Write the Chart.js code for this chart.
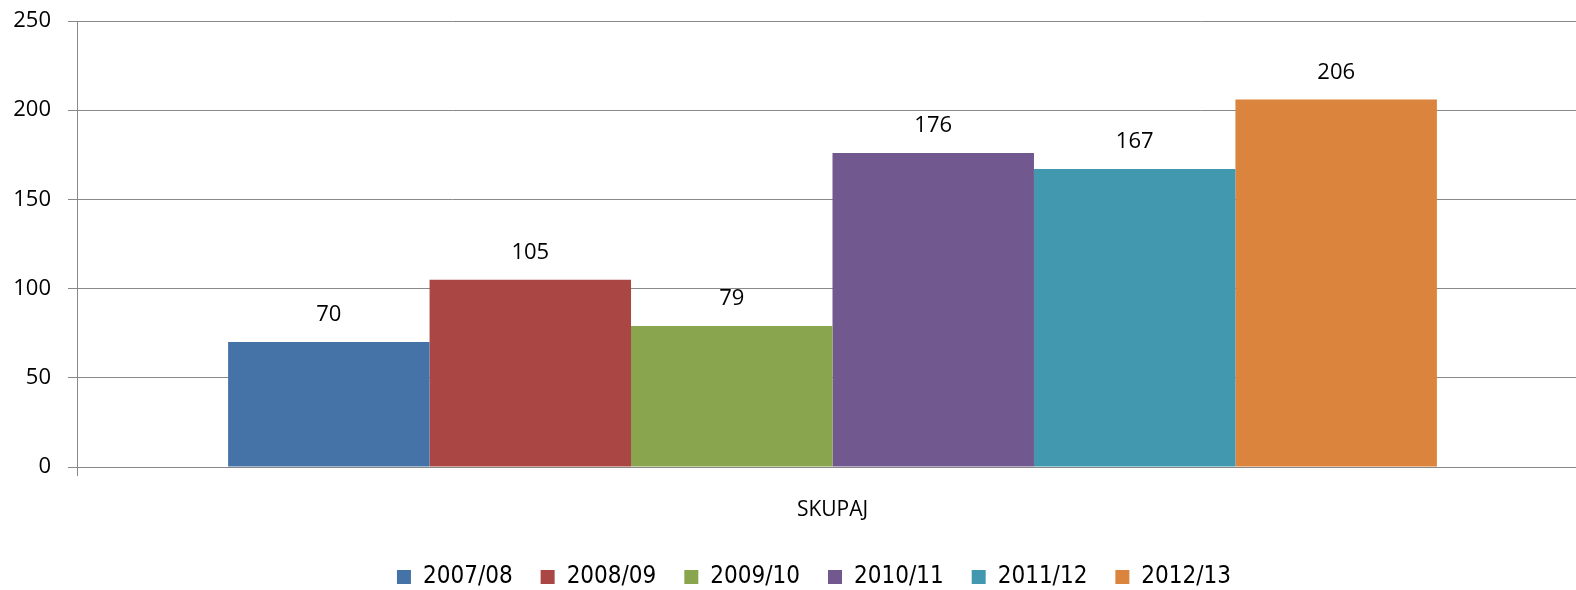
<!DOCTYPE html>
<html>
<head>
<meta charset="utf-8">
<script src="https://cdn.jsdelivr.net/npm/chart.js@4.4.0/dist/chart.umd.min.js"></script>
<style>
  html, body { margin: 0; padding: 0; background: #fff; }
  #wrap { width: 1576px; height: 590px; }
</style>
</head>
<body>
<div id="wrap"><canvas id="grafico" width="1576" height="590"></canvas></div>
<script>
// dati
const categorie = ["SKUPAJ"];
const anni = ["2007/08", "2008/09", "2009/10", "2010/11", "2011/12", "2012/13"];
const valori = [70, 105, 79, 176, 167, 206];
const colori = ["#4572A7", "#AA4643", "#89A54E", "#71588F", "#4198AF", "#DB843D"];
const yTicks = [0, 50, 100, 150, 200, 250];

const FONT = "'Liberation Sans Narrow', 'DejaVu Sans Condensed', 'Open Sans', sans-serif";

// etichette sopra le barre + piccoli aggiustamenti di layout
const valueLabels = {
  id: "valueLabels",
  afterLayout(chart) {
    // legenda leggermente spostata a destra come nell'originale
    chart.legend.left += 26;
    chart.legend.right += 26;
    // gruppo di barre leggermente spostato a destra
    const x = chart.scales.x;
    x.right += 12;
    x.width += 12;
    x.configure();
  },
  afterDatasetsDraw(chart) {
    const ctx = chart.ctx;
    ctx.save();
    ctx.font = "22px 'Open Sans', sans-serif";
    ctx.fillStyle = "#000";
    ctx.textAlign = "center";
    ctx.textBaseline = "middle";
    chart.data.datasets.forEach((ds, i) => {
      const meta = chart.getDatasetMeta(i);
      meta.data.forEach((bar, j) => {
        ctx.fillText(String(ds.data[j]), bar.x, bar.y - 27);
      });
    });
    ctx.restore();
  }
};

const datasets = anni.map((a, i) => ({
  label: a,
  data: [valori[i]],
  backgroundColor: colori[i],
  borderWidth: 0,
  barPercentage: 1,
  categoryPercentage: 0.8
}));

new Chart(document.getElementById("grafico").getContext("2d"), {
  type: "bar",
  data: { labels: categorie, datasets },
  plugins: [valueLabels],
  options: {
    responsive: false,
    animation: false,
    layout: { padding: { top: 21, right: 0, left: 0, bottom: -9 } },
    scales: {
      x: {
        afterFit(s) { s.height = 70; },
        grid: { drawOnChartArea: false, color: "#888", tickLength: 9, lineWidth: 1 },
        border: { color: "#888" },
        ticks: { color: "#000", font: { size: 21, family: "'Open Sans', sans-serif" }, padding: 21 }
      },
      y: {
        min: 0,
        max: 250,
        afterFit(s) { s.width = 77; s.paddingTop = 0; },
        afterBuildTicks(s) { s.ticks = yTicks.map(v => ({ value: v })); },
        grid: { color: "#888", tickLength: 9, lineWidth: 1 },
        border: { color: "#888" },
        ticks: { color: "#000", font: { size: 22, family: "'Open Sans', sans-serif" }, padding: 17 }
      }
    },
    plugins: {
      legend: {
        position: "bottom",
        labels: {
          boxWidth: 14,
          boxHeight: 14,
          padding: 28,
          color: "#000",
          font: { size: 24, family: FONT }
        }
      },
      tooltip: { enabled: false }
    }
  }
});
</script>
</body>
</html>
